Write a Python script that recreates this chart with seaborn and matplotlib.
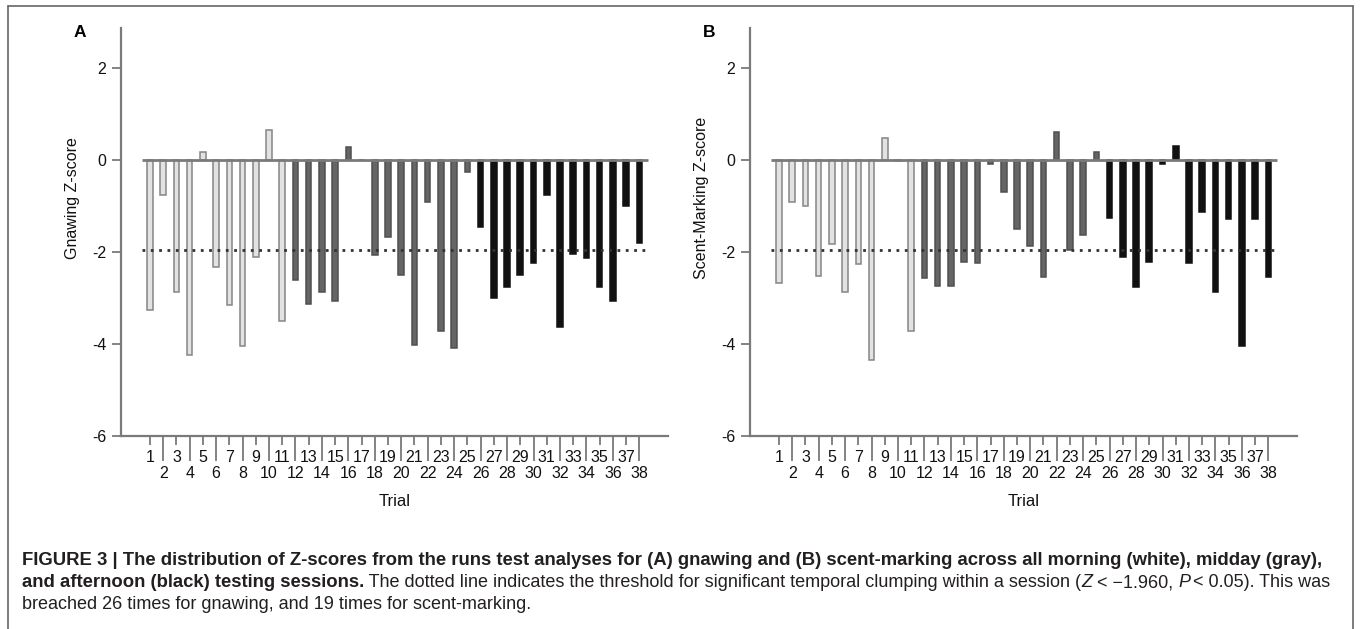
import numpy as np
import pandas as pd
import matplotlib
matplotlib.use("Agg")
import matplotlib.pyplot as plt
import seaborn as sns
from matplotlib import font_manager
from matplotlib.lines import Line2D

# ---------------- data ----------------
trials = list(range(1, 39))
sessions = ["morning"] * 11 + ["midday"] * 14 + ["afternoon"] * 13
gnawing_z = [-3.26, -0.76, -2.86, -4.24, 0.18, -2.32, -3.15, -4.04, -2.10, 0.65,
             -3.51, -2.61, -3.14, -2.86, -3.07, 0.29, 0.0, -2.07, -1.68, -2.50,
             -4.02, -0.91, -3.72, -4.09, -0.25, -1.46, -3.00, -2.77, -2.51, -2.23,
             -0.76, -3.62, -2.04, -2.12, -2.75, -3.07, -1.01, -1.81]
scent_z = [-2.67, -0.92, -0.99, -2.52, -1.83, -2.86, -2.25, -4.35, 0.47, -0.03,
           -3.72, -2.57, -2.74, -2.74, -2.21, -2.23, -0.08, -0.69, -1.51, -1.88,
           -2.55, 0.61, -1.95, -1.63, 0.17, -1.25, -2.10, -2.77, -2.21, -0.09,
           0.31, -2.23, -1.12, -2.88, -1.28, -4.04, -1.28, -2.54]
threshold = -1.96
y_ticks = [-6, -4, -2, 0, 2]
panel_letters = ["A", "B"]
y_labels = ["Gnawing Z-score", "Scent-Marking Z-score"]
x_label = "Trial"

session_order = ["morning", "midday", "afternoon"]
fill = {"morning": "#e2e2e2", "midday": "#656565", "afternoon": "#111111"}
edge = {"morning": "#858585", "midday": "#505050", "afternoon": "#111111"}

# ---------------- style ----------------
sns.set_theme(style="ticks")
def have(fam):
    try:
        font_manager.findfont(font_manager.FontProperties(family=fam), fallback_to_default=False)
        return True
    except Exception:
        return False
base_font = "Liberation Sans" if have("Liberation Sans") else "DejaVu Sans"
cap_font = "Liberation Sans Narrow" if have("Liberation Sans Narrow") else base_font
plt.rcParams["font.family"] = [base_font, "DejaVu Sans"]
plt.rcParams["axes.unicode_minus"] = False

W, H = 1360, 629
fig = plt.figure(figsize=(W / 100, H / 100), dpi=100)
fig.patch.set_facecolor("white")

def rect(l, t, r, b):
    return [l / W, 1 - b / H, (r - l) / W, (b - t) / H]

axis_gray = "#7a7a7a"
text_col = "#111111"
spacing_px = 13.22
left_pos = 1 - 29 / spacing_px
right_pos = 38 + 28.7 / spacing_px

panels = [(rect(121, 28, 668, 436), gnawing_z), (rect(750, 28, 1297, 436), scent_z)]
for i, (r, vals) in enumerate(panels):
    ax = fig.add_axes(r)
    ax.set_facecolor("white")
    df = pd.DataFrame({"trial": trials, "z": vals, "session": sessions})
    for s in session_order:
        sub = df[df["session"] == s]
        sns.barplot(data=sub, x="trial", y="z", native_scale=True, width=0.42,
                    color=fill[s], edgecolor=edge[s], linewidth=1.1,
                    saturation=1, errorbar=None, ax=ax, zorder=2)
    # zero line and threshold
    ax.hlines(0, 0.37, 38.66, color=axis_gray, lw=2.0, zorder=3)
    ax.hlines(threshold, 0.37, 38.66, color="#333333", lw=2.0,
              linestyles=(0, (1, 2)), zorder=4)
    ax.set_xlim(left_pos, right_pos)
    ax.set_ylim(-6, 2.87)
    for sp in ["top", "right"]:
        ax.spines[sp].set_visible(False)
    for sp in ["left", "bottom"]:
        ax.spines[sp].set_color(axis_gray)
        ax.spines[sp].set_linewidth(1.6)
    ax.set_yticks(y_ticks, labels=[str(v) for v in y_ticks])
    odd = [t for t in trials if t % 2 == 1]
    even = [t for t in trials if t % 2 == 0]
    ax.set_xticks(odd, labels=[str(t) for t in odd])
    ax.set_xticks(even, labels=[str(t) for t in even], minor=True)
    ax.tick_params(axis="x", which="major", length=6.5, width=1.3, color=axis_gray,
                   pad=3.5, labelsize=11.5, labelcolor=text_col)
    ax.tick_params(axis="x", which="minor", length=18, width=1.3, color=axis_gray,
                   pad=3.5, labelsize=11.5, labelcolor=text_col)
    ax.tick_params(axis="y", which="major", length=6.5, width=1.3, color=axis_gray,
                   pad=4, labelsize=11.5, labelcolor=text_col)
    ax.set_xlabel(x_label, fontsize=12, color=text_col)
    ax.xaxis.set_label_coords(0.5, -0.16)
    ax.xaxis.label.set_va("center")
    ax.set_ylabel(y_labels[i], fontsize=11.5, color=text_col)
    ax.yaxis.set_label_coords(-0.088, 0.583)
    ax.yaxis.label.set_va("center")
    ax.grid(False)
    ax.text(-0.075, 0.988, panel_letters[i], transform=ax.transAxes, fontsize=12.5,
            fontweight="bold", ha="center", va="center", color="black")

# ---------------- border ----------------
bc = "#666666"
fig.add_artist(Line2D([7.5 / W, 1353 / W], [1 - 6 / H, 1 - 6 / H], color=bc, lw=1.2, transform=fig.transFigure))
fig.add_artist(Line2D([7.5 / W, 7.5 / W], [1 - 6 / H, 0], color=bc, lw=1.2, transform=fig.transFigure))
fig.add_artist(Line2D([1353 / W, 1353 / W], [1 - 6 / H, 0], color=bc, lw=1.2, transform=fig.transFigure))

# ---------------- caption ----------------
renderer = fig.canvas.get_renderer()
cap_color = "#231f20"

def text_width(s, size, weight="normal", style="normal"):
    t = fig.text(0, 0, "." + s + ".", fontsize=size, fontweight=weight, fontstyle=style,
                 family=[cap_font, "DejaVu Sans"])
    t2 = fig.text(0, 0, "..", fontsize=size, fontweight=weight, fontstyle=style,
                  family=[cap_font, "DejaVu Sans"])
    w = t.get_window_extent(renderer).width - t2.get_window_extent(renderer).width
    t.remove(); t2.remove()
    return w

line1 = ("FIGURE 3 | The distribution of Z-scores from the runs test analyses for (A) gnawing "
         "and (B) scent-marking across all morning (white), midday (gray),")
line3 = "breached 26 times for gnawing, and 19 times for scent-marking."
bold_size = 10 * 1301 / text_width(line1, 10, "bold")
reg_size = 10 * 510 / text_width(line3, 10)

def place(y_px, segs, x0=22):
    x = x0
    for s, weight, style, size in segs:
        fig.text(x / W, 1 - y_px / H, s, fontsize=size, fontweight=weight, fontstyle=style,
                 family=[cap_font, "DejaVu Sans"], color=cap_color, va="baseline", ha="left")
        x += text_width(s, size, weight, style)

place(565, [(line1, "bold", "normal", bold_size)])
place(587, [("and afternoon (black) testing sessions.", "bold", "normal", bold_size),
            (" The dotted line indicates the threshold for significant temporal clumping within a session (",
             "normal", "normal", reg_size),
            ("Z", "normal", "italic", reg_size),
            (" < \u22121.960, ", "normal", "normal", reg_size),
            ("P", "normal", "italic", reg_size),
            (" < 0.05). This was", "normal", "normal", reg_size)])
place(609, [(line3, "normal", "normal", reg_size)])

fig.savefig("out.png", dpi=100, facecolor="white")
